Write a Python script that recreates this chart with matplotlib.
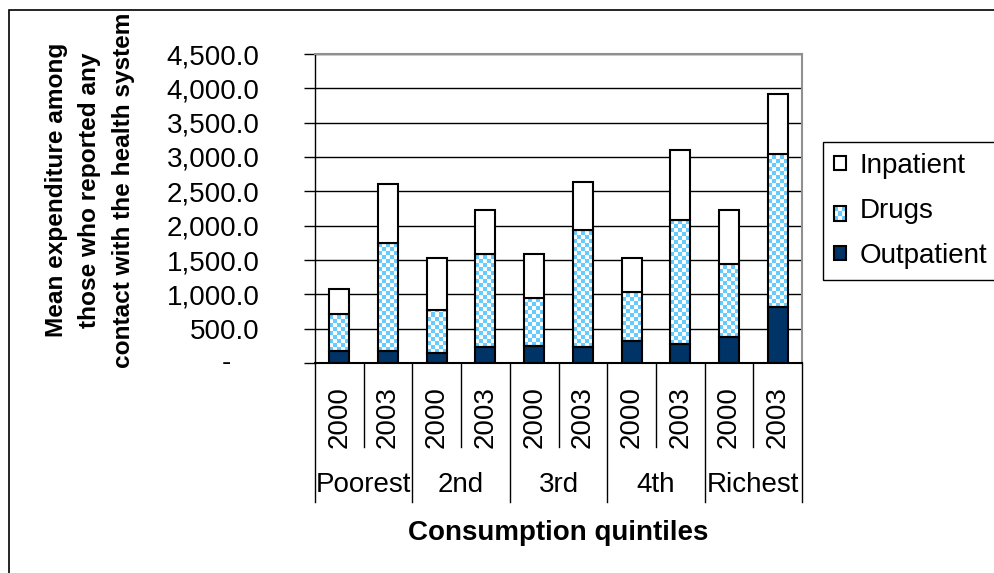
import numpy as np
import matplotlib
matplotlib.use("Agg")
import matplotlib.pyplot as plt
from matplotlib.patches import Rectangle
from matplotlib.legend_handler import HandlerBase
from matplotlib.ticker import FuncFormatter, MultipleLocator

plt.rcParams['font.family'] = ['Liberation Sans', 'DejaVu Sans']

quintiles = ['Poorest', '2nd', '3rd', '4th', 'Richest']
years = ['2000', '2003']
outpatient = [170, 170, 141, 228, 252, 228, 315, 281, 373, 810]
drugs = [543, 1571, 630, 1363, 694, 1702, 723, 1800, 1063, 2231]
inpatient = [359, 863, 762, 640, 645, 704, 495, 1023, 795, 883]

NAVY = '#003366'
LIGHT = '#66CCFF'
FS = 20

fig = plt.figure(figsize=(9.94, 5.73), dpi=100)
ax = fig.add_axes([315 / 994, 1 - 363 / 573, 487 / 994, 309 / 573])

n = len(outpatient)
x = np.arange(n)
w = 0.41
out = np.array(outpatient)
drg = np.array(drugs)
inp = np.array(inpatient)

ax.bar(x, out, w, color=NAVY, edgecolor='black', lw=1.5, zorder=3)
drug_bars = ax.bar(x, drg, w, bottom=out, facecolor='none', edgecolor='black', lw=1.5, zorder=3)
ax.bar(x, inp, w, bottom=out + drg, color='white', edgecolor='black', lw=1.5, zorder=3)

# checkerboard fill for the drugs segment, clipped to each bar
cw, ch = w / 5, 58.0
light = np.array(matplotlib.colors.to_rgb(LIGHT))
for rect in drug_bars:
    x0, y0 = rect.get_x(), rect.get_y()
    hgt = rect.get_height()
    nr = int(np.ceil(hgt / ch)) + 1
    nc = 6
    rr, cc = np.meshgrid(np.arange(nr), np.arange(nc), indexing='ij')
    mask = (rr + cc) % 2 == 0
    img = np.ones((nr, nc, 3))
    img[mask] = light
    im = ax.imshow(img, extent=[x0, x0 + nc * cw, y0, y0 + nr * ch], origin='lower',
                   interpolation='nearest', aspect='auto', zorder=2)
    im.set_clip_path(rect)

ax.set_xlim(-0.5, n - 0.5)
ax.set_ylim(0, 4500)
ax.yaxis.set_major_locator(MultipleLocator(500))
ax.yaxis.set_major_formatter(FuncFormatter(lambda v, p: '' if v == 0 else f'{v:,.1f}'))
ax.text(-0.181, 0, '-', transform=ax.get_yaxis_transform(), ha='center', va='center', fontsize=FS)
ax.tick_params(axis='y', length=8, width=1, pad=32, labelsize=FS)
ax.set_xticks([])
ax.grid(axis='y', color='black', lw=1, zorder=0)
ax.set_axisbelow(True)
for s in ['top', 'right']:
    ax.spines[s].set_color('#909090')
    ax.spines[s].set_linewidth(1.5)
ax.spines['left'].set_linewidth(1)
ax.spines['bottom'].set_linewidth(1.5)

# two-level category axis below the plot
ylab, yq = -0.175, -0.395
short, long_ = -0.272, -0.45
for i in range(n):
    ax.text(i, ylab, years[i % 2], rotation=90, ha='center', va='center',
            fontsize=FS, transform=ax.get_xaxis_transform())
for g, q in enumerate(quintiles):
    ax.text(2 * g + 0.5, yq, q, ha='center', va='center', fontsize=FS,
            transform=ax.get_xaxis_transform())
for b in np.arange(-0.5, n, 1.0):
    lo = long_ if int(b + 0.5) % 2 == 0 else short
    ax.plot([b, b], [0, lo], color='black', lw=1, clip_on=False,
            transform=ax.get_xaxis_transform())

fig.text(558 / 994, 1 - 533 / 573, 'Consumption quintiles', ha='center', va='center',
         fontsize=FS, fontweight='bold')
fig.text(90 / 994, 1 - 190 / 573,
         'Mean expenditure among\nthose who reported any\ncontact with the health system',
         rotation=90, ha='center', va='center', multialignment='center',
         fontsize=17.6, fontweight='bold', linespacing=1.6)


class CheckerHandler(HandlerBase):
    def create_artists(self, legend, orig, xd, yd, width, height, fontsize, trans):
        arts = []
        k = 3
        for r in range(k):
            for c in range(k):
                col = LIGHT if (r + c) % 2 == 0 else 'white'
                arts.append(Rectangle((xd + c * width / k, yd + r * height / k), width / k,
                                      height / k, facecolor=col, edgecolor='none', transform=trans))
        arts.append(Rectangle((xd, yd), width, height, facecolor='none', edgecolor='black',
                              lw=1.5, transform=trans))
        return arts


h_in = Rectangle((0, 0), 1, 1, facecolor='white', edgecolor='black', lw=1.5)
h_dr = Rectangle((0, 0), 1, 1, facecolor=LIGHT, edgecolor='black', lw=1.5)
h_out = Rectangle((0, 0), 1, 1, facecolor=NAVY, edgecolor='black', lw=1.5)
leg = fig.legend([h_in, h_dr, h_out], ['Inpatient', 'Drugs', 'Outpatient'],
                 loc='upper left', bbox_to_anchor=(823 / 994, 1 - 142 / 573),
                 borderaxespad=0, fontsize=FS, handlelength=0.43, handleheight=0.43,
                 handletextpad=0.5, borderpad=0.4, labelspacing=0.68, fancybox=False,
                 framealpha=1, handler_map={h_dr: CheckerHandler()})
leg.get_frame().set_edgecolor('black')
leg.get_frame().set_linewidth(1)

# outer chart border
fig.patches.append(Rectangle((9 / 994, -0.1), 1.2, 1.1 - 10 / 573, fill=False,
                             edgecolor='black', lw=1.2, transform=fig.transFigure))

fig.savefig('out.png', dpi=100)
